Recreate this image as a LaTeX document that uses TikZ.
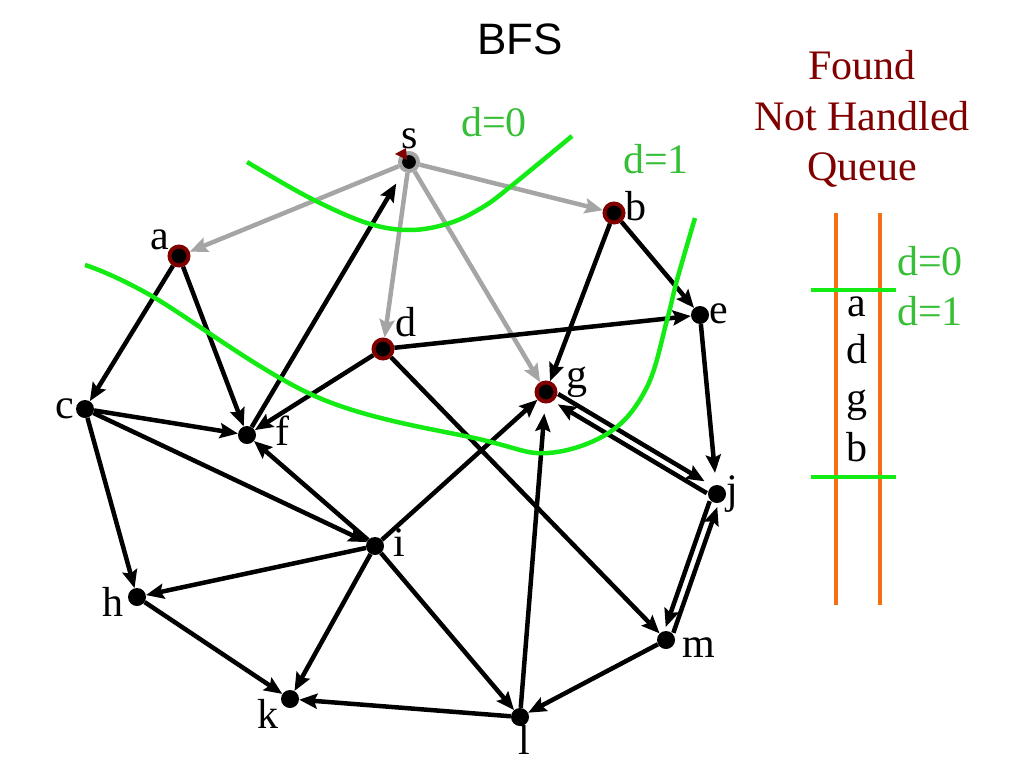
\documentclass[tikz,border=0pt]{standalone}
\usepackage{fontspec}
\setmainfont{Liberation Serif}
\newfontfamily\arialfont{Liberation Sans}
\usetikzlibrary{arrows.meta}
\definecolor{darkred}{RGB}{128,0,0}
\definecolor{edgegray}{RGB}{165,165,165}
\definecolor{linegreen}{RGB}{20,235,20}
\definecolor{textgreen}{RGB}{55,190,55}
\definecolor{qorange}{RGB}{245,110,20}
\begin{document}
\begin{tikzpicture}[x=1pt,y=-1pt,
  font=\fontsize{42}{50}\selectfont,
  dotn/.style={circle, fill=black, minimum size=18pt, inner sep=0pt},
  foundn/.style={circle, fill=black, draw=darkred, line width=4pt, minimum size=19pt, inner sep=0pt},
  srcn/.style={circle, fill=black, draw=edgegray, line width=4pt, minimum size=18pt, inner sep=0pt},
  lbl/.style={inner sep=0pt},
  edgea/.style={line width=4.5pt, -{Stealth[length=18pt,width=15pt,inset=3pt]}},
  gedge/.style={edgea, draw=edgegray},
  levelcurve/.style={line width=4.5pt, draw=linegreen},
  qline/.style={line width=4.5pt, draw=qorange},
  gtext/.style={inner sep=0pt, text=textgreen, anchor=base},
  rtext/.style={inner sep=0pt, text=darkred, anchor=base}
]
\useasboundingbox (0,0) rectangle (1024,768);

% title
\node[inner sep=0pt, anchor=base, font=\arialfont\fontsize{44}{52}\selectfont] (title) at (520,55) {BFS};

% nodes
\node[srcn] (s) at (409,162) {};
\node[foundn] (a) at (179,256) {};
\node[foundn] (b) at (614,213) {};
\node[foundn] (d) at (383,349) {};
\node[foundn] (g) at (546,392) {};
\node[dotn] (e) at (700,315) {};
\node[dotn] (c) at (85,409) {};
\node[dotn] (f) at (247,435) {};
\node[dotn] (j) at (717,494) {};
\node[dotn] (i) at (375,546) {};
\node[dotn] (h) at (137,597) {};
\node[dotn] (m) at (666,640) {};
\node[dotn] (k) at (290,699) {};
\node[dotn] (l) at (520,717) {};

\fill[darkred] (395,154) -- (406,148) -- (407,160) -- cycle;

% labels
\node[lbl] (ls) at (410,139) {s};
\node[lbl] (la) at (160,240) {a};
\node[lbl] (lb) at (636,206) {b};
\node[lbl] (ld) at (406,322) {d};
\node[lbl] (lg) at (577,382) {g};
\node[lbl] (le) at (719,314) {e};
\node[lbl] (lc) at (65,409) {c};
\node[lbl] (lf) at (282,431) {f};
\node[lbl] (lj) at (732,494) {j};
\node[lbl] (li) at (399,543) {i};
\node[lbl] (lh) at (113,602) {h};
\node[lbl] (lm) at (699,648) {m};
\node[lbl] (lk) at (268,714) {k};
\node[lbl] (ll) at (524,740) {l};

% gray edges
\draw[gedge] (s) -- (a);
\draw[gedge] (s) -- (b);
\draw[gedge] (s) -- (d);
\draw[gedge] (s) -- (g);

% black edges
\draw[edgea] (a) -- (c);
\draw[edgea] (a) -- (f);
\draw[edgea, shorten >=14pt] (f) -- (s);
\draw[edgea] (b) -- (g);
\draw[edgea] (b) -- (e);
\draw[edgea] (d) -- (f);
\draw[edgea] (d) -- (e);
\draw[edgea] (d) -- (m);
\draw[edgea] (c) -- (f);
\draw[edgea] (c) -- (i);
\draw[edgea] (c) -- (h);
\draw[edgea] (i) -- (f);
\draw[edgea] (i) -- (g);
\draw[edgea] (i) -- (h);
\draw[edgea] (i) -- (k);
\draw[edgea] (i) -- (l);
\draw[edgea] (h) -- (k);
\draw[edgea] (l) -- (k);
\draw[edgea, shorten >=10pt] (l) -- (g);
\draw[edgea] (m) -- (l);
\draw[edgea, shorten >=12pt] (e) -- (j);
\draw[edgea, shorten >=8pt, transform canvas={xshift=2.3pt,yshift=3.9pt}] (g) -- (j);
\draw[edgea, shorten >=5pt, transform canvas={xshift=-2.3pt,yshift=-3.9pt}] (j) -- (g);
\draw[edgea, shorten >=3pt, transform canvas={xshift=-4.3pt,yshift=1.5pt}] (j) -- (m);
\draw[edgea, shorten >=3pt, transform canvas={xshift=4.3pt,yshift=-1.5pt}] (m) -- (j);

% level curves
\draw[levelcurve] plot[smooth, tension=0.6] coordinates {(247,162) (310,198) (367,223) (410,230) (450,223) (483,207) (510,187) (572,136)};
\draw[levelcurve] plot[smooth, tension=0.6] coordinates {(85,265) (150,295) (317,397) (483,440) (548,453) (610,432) (647,387) (667,320) (677,280) (695,218)};
\node[gtext] (d0) at (494,136) {d=0};
\node[gtext] (d1) at (656,173) {d=1};

% legend
\node[rtext] (found) at (862,79) {Found};
\node[rtext] (nothandled) at (862,130) {Not Handled};
\node[rtext] (queue) at (862,180) {Queue};

% queue
\draw[qline] (836,213) -- (836,605);
\draw[qline] (880,213) -- (880,605);
\draw[levelcurve] (811,290) -- (896,290);
\draw[levelcurve] (811,477) -- (896,477);
\node[inner sep=0pt, anchor=base] (qa) at (857,316) {a};
\node[inner sep=0pt, anchor=base] (qd) at (857,363) {d};
\node[inner sep=0pt, anchor=base] (qg) at (857,411) {g};
\node[inner sep=0pt, anchor=base] (qb) at (857,461) {b};
\node[gtext] (qd0) at (930,275) {d=0};
\node[gtext] (qd1) at (930,325) {d=1};
\end{tikzpicture}
\end{document}
